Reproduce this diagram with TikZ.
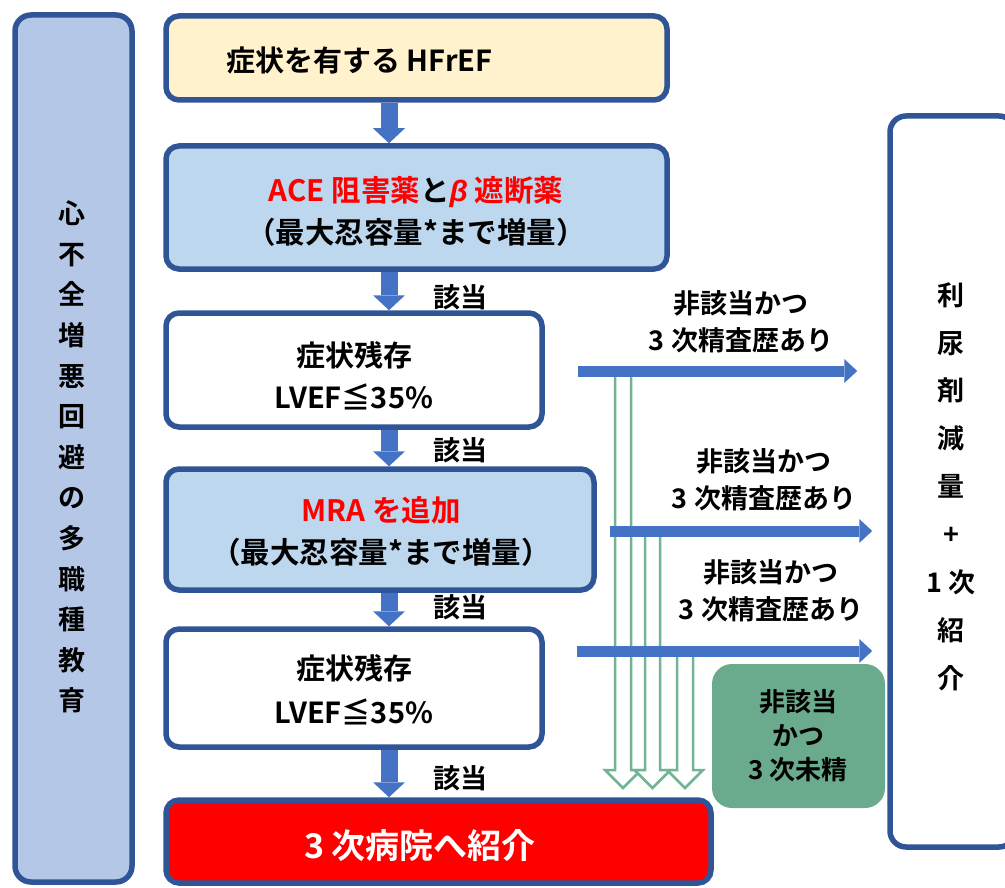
\documentclass[tikz,border=0pt]{standalone}
\usepackage{fontspec}
\setmainfont{Noto Sans CJK JP}[UprightFont=* Bold]
\newfontfamily\betafont{Liberation Sans}[UprightFont=* Bold Italic]
\usetikzlibrary{arrows.meta,calc}
\definecolor{bdr}{HTML}{2F5597}
\definecolor{ablue}{HTML}{4472C4}
\definecolor{leftfill}{HTML}{B4C7E7}
\definecolor{lblue}{HTML}{BDD7EE}
\definecolor{topfill}{HTML}{FFF2CC}
\definecolor{gbox}{HTML}{6AAB8E}
\definecolor{garrow}{HTML}{72B394}
\newcommand\fsz[2]{\fontsize{#1pt}{#2pt}\selectfont}
\begin{document}
\begin{tikzpicture}[x=1pt,y=-1pt,
  box/.style={draw=bdr, line width=5.5pt, rounded corners=13pt, inner sep=0pt},
  txt/.style={inner sep=0pt, align=center, font=\fsz{29}{41}},
  vdown/.style={draw=ablue, line width=17pt, -{Triangle[width=32pt,length=15pt,line width=0pt]}},
  hright/.style={draw=ablue, line width=11pt, -{Triangle[width=24pt,length=13pt,line width=0pt]}},
  hollow/.style={draw=garrow, line width=2.5pt, fill=white, line join=miter},
  lab/.style={inner sep=0pt, align=center, font=\fsz{27}{37}}]
\useasboundingbox (0,0) rectangle (1005,888);

% left education box
\node[box, fill=leftfill, rounded corners=16pt, minimum width=117pt, minimum height=867pt] (left) at (73.5,448.5) {};
\node[txt, font=\fsz{27}{40.6}] (lefttxt) at (72,457) {心\\不\\全\\増\\悪\\回\\避\\の\\多\\職\\種\\教\\育};

% right box
\node[box, fill=white, rounded corners=16pt, minimum width=125pt, minimum height=731pt] (right) at (952.5,481.5) {};
\node[txt, font=\fsz{27}{47.9}] (righttxt) at (951,486.5) {利\\尿\\剤\\減\\量\\+\\1 次\\紹\\介};

% main flow boxes
\node[box, fill=topfill, minimum width=501pt, minimum height=84pt] (n1) at (416.5,58) {};
\node[txt, anchor=west] (t1) at (226,60) {症状を有する HFrEF};

\node[box, fill=lblue, minimum width=501pt, minimum height=123pt] (n2) at (416.5,207.5) {};
\node[txt, font=\fsz{29.5}{42}] (t2) at (416,211) {\textcolor{red}{ACE 阻害薬}と\textcolor{red}{{\betafont β} 遮断薬}\\（最大忍容量*まで増量）};

\node[box, fill=white, minimum width=376pt, minimum height=114pt] (n3) at (354,370) {};
\node[txt, font=\fsz{29}{42}] (t3) at (354,376) {症状残存\\LVEF≦35\%};

\node[box, fill=lblue, minimum width=428pt, minimum height=121pt] (n4) at (380,529.5) {};
\node[txt, font=\fsz{29.5}{42}] (t4) at (381,531) {\textcolor{red}{MRA を追加}\\（最大忍容量*まで増量）};

\node[box, fill=white, minimum width=376pt, minimum height=118pt] (n5) at (354,688) {};
\node[txt, font=\fsz{29}{44}] (t5) at (354,690) {症状残存\\LVEF≦35\%};

\node[box, fill=red, minimum width=545pt, minimum height=83pt] (n6) at (438.5,841.5) {};
\node[txt, text=white, font=\fsz{34}{40}] (t6) at (420,846) {3 次病院へ紹介};

% green box
\node[fill=gbox, rounded corners=20pt, minimum width=173pt, minimum height=144pt, inner sep=0pt] (g) at (798.5,736) {};
\node[txt, font=\fsz{26}{34}] (gt) at (798,736) {非該当\\かつ\\3 次未精};

% vertical arrows
\coordinate (xa) at (389,0);
\draw[vdown] (xa |- n1.south) -- (xa |- n2.north);
\draw[vdown] (xa |- n2.south) -- (xa |- n3.north);
\draw[vdown] (xa |- n3.south) -- (xa |- n4.north);
\draw[vdown] (xa |- n4.south) -- (xa |- n5.north);
\draw[vdown] (xa |- n5.south) -- (xa |- n6.north);

\node[lab] (l1) at (460,297) {該当};
\node[lab] (l2) at (460,450) {該当};
\node[lab] (l3) at (460,607) {該当};
\node[lab] (l4) at (460,778) {該当};

% hollow green arrows
\draw[hollow] (615,371) -- (615,770) -- (605,770) -- (623,788) -- (641,770) -- (631,770) -- (631,371);
\draw[hollow] (645,531) -- (645,770) -- (634.5,770) -- (652.5,788) -- (670.5,770) -- (660,770) -- (660,531);
\draw[hollow] (677,651) -- (677,770) -- (667,770) -- (685,788) -- (703,770) -- (693,770) -- (693,651);

% horizontal arrows
\coordinate (h1s) at (578,371);
\coordinate (h2s) at (610,531);
\coordinate (h3s) at (577,651);
\draw[hright] (h1s) -- ([xshift=-30pt]h1s -| right.west);
\draw[hright] (h2s) -- ([xshift=-15pt]h2s -| right.west);
\draw[hright] (h3s) -- ([xshift=-15pt]h3s -| right.west);

\node[lab] (r1) at (741,322) {非該当かつ\\3 次精査歴あり};
\node[lab] (r2) at (764,480) {非該当かつ\\3 次精査歴あり};
\node[lab] (r3) at (771,591) {非該当かつ\\3 次精査歴あり};
\end{tikzpicture}
\end{document}
